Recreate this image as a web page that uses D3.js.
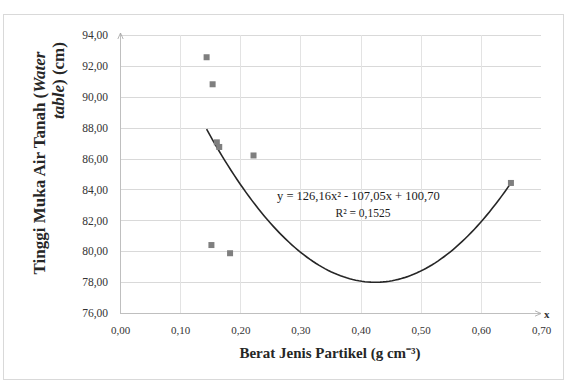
<!DOCTYPE html>
<html>
<head>
<meta charset="utf-8">
<script src="https://cdn.jsdelivr.net/npm/d3@7"></script>
<style>
  body { margin: 0; background: #fff; }
  text { font-family: 'Liberation Serif', 'Times New Roman', serif; }
</style>
</head>
<body>
<div id="chart"></div>
<script>
// data
var particleDensity = [0.144, 0.154, 0.161, 0.165, 0.222, 0.152, 0.183, 0.650]
var waterTable = [92.56, 90.81, 87.05, 86.75, 86.20, 80.40, 79.87, 84.42]
var trendCoef = [126.16, -107.05, 100.70] // a, b, c
var xTicks = [0, 0.1, 0.2, 0.3, 0.4, 0.5, 0.6, 0.7]
var yTicks = [76, 78, 80, 82, 84, 86, 88, 90, 92, 94]
var eqLabel = 'y = 126,16x² - 107,05x + 100,70'
var r2Label = 'R² = 0,1525'

var width = 567
var height = 383
var plotLeft = 120
var plotRight = 541
var plotTop = 35
var plotBottom = 313

var fmt = function (d) { return d3.format('.2f')(d).replace('.', ',') }

var x = d3.scaleLinear().domain([0, 0.7]).range([plotLeft, plotRight])
var y = d3.scaleLinear().domain([76, 94]).range([plotBottom, plotTop])

var svg = d3.select('#chart').append('svg')
  .attr('width', width)
  .attr('height', height)

// chart area border
svg.append('rect')
  .attr('x', 3.5).attr('y', 14.5)
  .attr('width', 560).attr('height', 365)
  .attr('fill', 'none')
  .attr('stroke', '#d9d9d9')

// gridlines
svg.append('g').selectAll('line')
  .data(yTicks.slice(1))
  .enter().append('line')
  .attr('x1', plotLeft).attr('x2', plotRight)
  .attr('y1', function (d) { return Math.round(y(d)) + 0.5 })
  .attr('y2', function (d) { return Math.round(y(d)) + 0.5 })
  .attr('stroke', '#d9d9d9')

svg.append('g').selectAll('line')
  .data(xTicks.slice(1, -1))
  .enter().append('line')
  .attr('y1', plotTop).attr('y2', plotBottom)
  .attr('x1', function (d) { return Math.round(x(d)) + 0.5 })
  .attr('x2', function (d) { return Math.round(x(d)) + 0.5 })
  .attr('stroke', '#e3e3e3')

// axes
var yAxis = d3.axisLeft(y).tickValues(yTicks).tickFormat(fmt).tickSize(0).tickPadding(12)
var xAxis = d3.axisBottom(x).tickValues(xTicks).tickFormat(fmt).tickSize(0).tickPadding(13)

var gy = svg.append('g')
  .attr('transform', 'translate(' + plotLeft + ',0)')
  .call(yAxis)
gy.select('.domain').remove()
gy.selectAll('text').attr('font-size', 11.5).attr('fill', '#333')
  .style('font-family', "'Liberation Serif', serif")

var gx = svg.append('g')
  .attr('transform', 'translate(0,' + plotBottom + ')')
  .call(xAxis)
gx.select('.domain').remove()
gx.selectAll('text').attr('font-size', 11).attr('fill', '#333')
  .style('font-family', "'Liberation Serif', serif")

// axis lines with arrows
var defs = svg.append('defs')
defs.append('marker')
  .attr('id', 'arrow')
  .attr('viewBox', '0 0 10 10')
  .attr('refX', 9).attr('refY', 5)
  .attr('markerWidth', 7).attr('markerHeight', 7)
  .attr('orient', 'auto')
  .append('path')
  .attr('d', 'M0,1 L9,5 L0,9')
  .attr('fill', 'none')
  .attr('stroke', '#a6a6a6')
  .attr('stroke-width', 1.2)

svg.append('line')
  .attr('x1', plotLeft + 0.5).attr('x2', plotLeft + 0.5)
  .attr('y1', plotBottom).attr('y2', plotTop - 2)
  .attr('stroke', '#bfbfbf')
  .attr('marker-end', 'url(#arrow)')

svg.append('line')
  .attr('x1', plotLeft).attr('x2', plotRight)
  .attr('y1', plotBottom + 0.5).attr('y2', plotBottom + 0.5)
  .attr('stroke', '#bfbfbf')
  .attr('marker-end', 'url(#arrow)')

svg.append('text')
  .attr('x', plotRight + 3).attr('y', plotBottom + 5)
  .attr('font-size', 11).attr('font-weight', 'bold')
  .attr('fill', '#333')
  .text('x')

// trendline
var xs = d3.extent(particleDensity)
var curve = d3.range(0, 101).map(function (i) {
  var v = xs[0] + (xs[1] - xs[0]) * i / 100
  return [v, trendCoef[0] * v * v + trendCoef[1] * v + trendCoef[2]]
})
svg.append('path')
  .datum(curve)
  .attr('fill', 'none')
  .attr('stroke', '#262626')
  .attr('stroke-width', 1.6)
  .attr('d', d3.line()
    .x(function (d) { return x(d[0]) })
    .y(function (d) { return y(d[1]) }))

// points
svg.append('g').selectAll('rect')
  .data(particleDensity)
  .enter().append('rect')
  .attr('x', function (d) { return x(d) - 3 })
  .attr('y', function (d, i) { return y(waterTable[i]) - 3 })
  .attr('width', 6).attr('height', 6)
  .attr('fill', '#7f7f7f')

// equation
svg.append('text')
  .attr('x', 277).attr('y', 200)
  .attr('font-size', 12.5).attr('fill', '#1a1a1a')
  .text(eqLabel)
svg.append('text')
  .attr('x', 363).attr('y', 217)
  .attr('text-anchor', 'middle')
  .attr('font-size', 11.5).attr('fill', '#1a1a1a')
  .text(r2Label)

// axis titles
svg.append('text')
  .attr('x', 330).attr('y', 358)
  .attr('text-anchor', 'middle')
  .attr('font-size', 15).attr('font-weight', 'bold').attr('fill', '#262626')
  .text('Berat Jenis Partikel (g cm⁻³)')

var yt = svg.append('text')
  .attr('transform', 'translate(45,163) rotate(-90)')
  .attr('text-anchor', 'middle')
  .attr('font-size', 17).attr('font-weight', 'bold').attr('fill', '#262626')
yt.append('tspan').text('Tinggi Muka Air Tanah (')
yt.append('tspan').attr('font-style', 'italic').text('Water')

var yt2 = svg.append('text')
  .attr('transform', 'translate(64,119) rotate(-90)')
  .attr('text-anchor', 'start')
  .attr('font-size', 17).attr('font-weight', 'bold').attr('fill', '#262626')
yt2.append('tspan').attr('font-style', 'italic').text('table')
yt2.append('tspan').text(') (cm)')
</script>
</body>
</html>
